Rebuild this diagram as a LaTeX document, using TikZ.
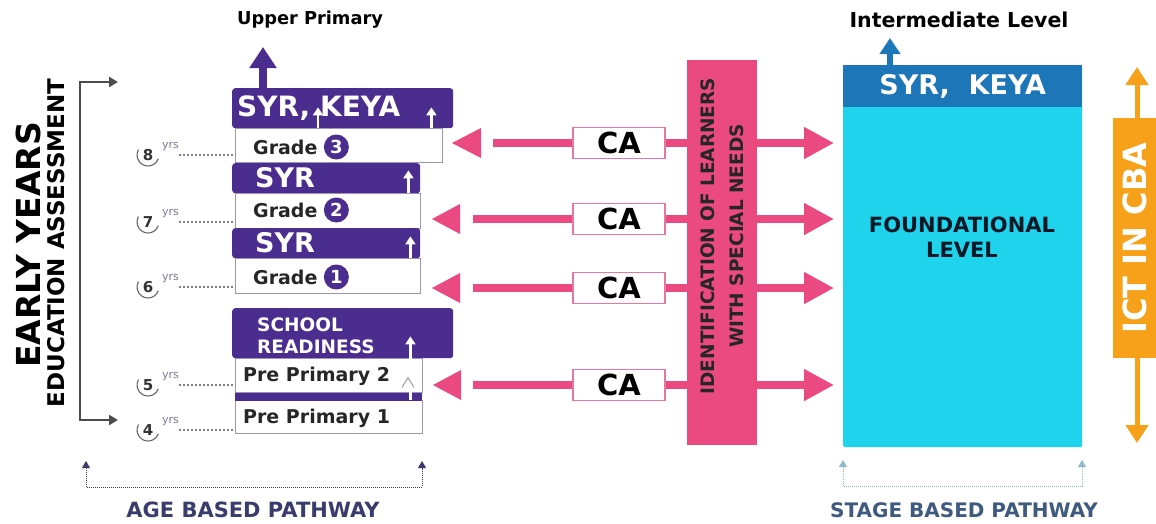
\documentclass[tikz,border=0pt]{standalone}
\usepackage{fontspec}
\setmainfont{DejaVu Sans}
\usetikzlibrary{positioning,arrows.meta}
\definecolor{ppurple}{HTML}{4B2C8F}
\definecolor{pframe}{HTML}{9C94BA}
\definecolor{ppink}{HTML}{EA4A80}
\definecolor{pinkline}{HTML}{E8769E}
\definecolor{pcyan}{HTML}{20D3EC}
\definecolor{pblue}{HTML}{1D76B8}
\definecolor{porange}{HTML}{F7A11A}
\definecolor{pnavy}{HTML}{3A3C6E}
\definecolor{pslate}{HTML}{3E5A7E}
\definecolor{pteal}{HTML}{8DBBCB}
\newcommand{\bfsize}[2]{\fontsize{#1}{#2}\selectfont\bfseries}

\begin{document}
\begin{tikzpicture}[x=1pt, y=-1pt,
  syrbar/.style = {fill=ppurple, rounded corners=3pt, anchor=north west, inner sep=0pt},
  gradebox/.style = {draw=pframe, fill=white, line width=1pt, anchor=north west, inner sep=0pt},
  bartext/.style = {anchor=west, inner sep=0pt, text=white, font=\bfsize{28}{28}},
  gradetext/.style = {anchor=west, inner sep=0pt, text=black!85, font=\bfsize{19}{19}},
  gradenum/.style = {circle, fill=ppurple, text=white, minimum size=25pt, inner sep=0pt, font=\bfsize{18}{18}},
  wup/.style = {white, line width=2.2pt, -{Triangle[length=8pt, width=10pt]}},
  cabox/.style = {draw=pinkline, fill=white, line width=1.2pt, minimum width=92pt, minimum height=31pt, inner sep=0pt, font=\bfsize{29}{29}},
  cashaft/.style = {ppink, line width=8pt},
  cato/.style = {cashaft, -{Triangle[length=30pt, width=30pt]}, shorten >=9pt},
  agenum/.style = {inner sep=0pt, text=black!80, font=\bfsize{15}{15}},
  agetxt/.style = {inner sep=0pt, anchor=west, text=pframe!80!black, font=\fontsize{11}{11}\selectfont},
  agearc/.style = {black!60, line width=1.1pt},
  agedot/.style = {black!50, dash pattern=on 2pt off 2pt, line width=1.2pt},
  pathline/.style = {densely dotted, line width=1pt, {Triangle[length=7pt, width=8pt]}-{Triangle[length=7pt, width=8pt]}}]

  \useasboundingbox (0,0) rectangle (1156,523);

  \node[rotate=90, font=\bfsize{33}{33}] (ey) at (28,245) {EARLY YEARS};
  \node[rotate=90, font=\bfsize{23}{23}] (eya) at (56,243) {EDUCATION ASSESSMENT};
  \coordinate (eyT) at (118,82);
  \coordinate (eyB) at (118,420);
  \draw[black!70, line width=2.5pt, {Triangle[length=9pt, width=10pt]}-{Triangle[length=9pt, width=10pt]}] (eyT) -- ++(-38,0) -- ++(0,338) -- (eyB);

  \node[syrbar, minimum width=221pt, minimum height=40pt] (keya) at (232,88) {};
  \node[gradebox, minimum width=207pt, minimum height=34pt] (g3) at (235,128) {};
  \node[syrbar, minimum width=188pt, minimum height=30pt] (syr2) at (232,163) {};
  \node[gradebox, minimum width=185pt, minimum height=35pt] (g2) at (235,193) {};
  \node[syrbar, minimum width=188pt, minimum height=30pt] (syr1) at (232,228) {};
  \node[gradebox, minimum width=185pt, minimum height=35pt] (g1) at (235,258) {};
  \node[syrbar, minimum width=221pt, minimum height=50pt] (sr) at (232,308) {};
  \node[gradebox, minimum width=187pt, minimum height=34pt] (pp2) at (235,358) {};
  \node[gradebox, minimum width=187pt, minimum height=33pt] (pp1) at (235,400) {};
  \fill[ppurple] (pp2.south west) rectangle ++(187,8);
  \draw[white, line width=2.2pt] ([xshift=-43pt]sr.south east) -- ++(0,42);
  \draw[pframe, line width=1pt] ([shift={(-21,12)}]pp2.east) -- ++(6,-10) -- ++(6,10);

  \node[bartext] (tkeya) at (237,108) {SYR, KEYA};
  \node[bartext, font=\bfsize{27}{27}] (tsyr2) at (255,178) {SYR};
  \node[bartext, font=\bfsize{27}{27}] (tsyr1) at (255,243) {SYR};
  \node[bartext, font=\bfsize{18.5}{22}, align=left] (tsr) at (257,336) {SCHOOL\\READINESS};
  \node[gradetext] (tg3) at (253,147) {Grade};
  \node[gradenum, right=6pt of tg3] (n3) {3};
  \node[gradetext] (tg2) at (253,210) {Grade};
  \node[gradenum, right=6pt of tg2] (n2) {2};
  \node[gradetext] (tg1) at (253,277) {Grade};
  \node[gradenum, right=6pt of tg1] (n1) {1};
  \node[gradetext] (tpp2) at (243,376) {Pre Primary 2};
  \node[gradetext] (tpp1) at (243,418) {Pre Primary 1};

  \draw[wup] ([xshift=86pt]keya.south west) -- ++(0,-21);
  \draw[wup] ([xshift=-22pt]keya.south east) -- ++(0,-21);
  \draw[wup] ([xshift=-12pt]syr2.south east) -- ++(0,-23);
  \draw[wup] ([xshift=-10pt]syr1.south east) -- ++(0,-22);
  \draw[wup] ([xshift=-43pt]sr.south east) -- ++(0,-22);
  \draw[ppurple, line width=8pt, -{Triangle[length=21pt, width=26pt]}] ([xshift=31pt]keya.north west) -- ++(0,-41);
  \node[font=\bfsize{17.8}{18}] (up) at (310,20) {Upper Primary};

  \node[agenum] (a8) at (148,155) {8};
  \node[agetxt] (r8) at (162,147) {yrs};
  \draw[agearc] ([shift={(-150:11)}]a8.center) arc[start angle=-150, end angle=-340, radius=11];
  \draw[agedot] (r8.east |- a8) -- (a8 -| g3.west);
  \node[agenum] (a7) at (148,222) {7};
  \node[agetxt] (r7) at (162,214) {yrs};
  \draw[agearc] ([shift={(-150:11)}]a7.center) arc[start angle=-150, end angle=-340, radius=11];
  \draw[agedot] (r7.east |- a7) -- (a7 -| g2.west);
  \node[agenum] (a6) at (148,287) {6};
  \node[agetxt] (r6) at (162,279) {yrs};
  \draw[agearc] ([shift={(-150:11)}]a6.center) arc[start angle=-150, end angle=-340, radius=11];
  \draw[agedot] (r6.east |- a6) -- (a6 -| g1.west);
  \node[agenum] (a5) at (148,385) {5};
  \node[agetxt] (r5) at (162,377) {yrs};
  \draw[agearc] ([shift={(-150:11)}]a5.center) arc[start angle=-150, end angle=-340, radius=11];
  \draw[agedot] (r5.east |- a5) -- (a5 -| pp2.west);
  \node[agenum] (a4) at (148,430) {4};
  \node[agetxt] (r4) at (162,422) {yrs};
  \draw[agearc] ([shift={(-150:11)}]a4.center) arc[start angle=-150, end angle=-340, radius=11];
  \draw[agedot] (r4.east |- a4) -- (a4 -| pp1.west);

  \node[fill=pcyan, anchor=north west, rounded corners=2pt, minimum width=239pt, minimum height=382pt, inner sep=0pt] (found) at (843,65) {};
  \node[fill=pblue, anchor=north west, minimum width=239pt, minimum height=42pt, inner sep=0pt, text=white, font=\bfsize{27}{27}] (band) at (843,65) {SYR,\ \ KEYA};
  \node[align=center, text=black!80!pblue, font=\bfsize{21}{25}] (fl) at (962,237) {FOUNDATIONAL\\LEVEL};
  \draw[pblue, line width=6pt, -{Triangle[length=16pt, width=20pt]}] ([xshift=47pt]band.north west) -- ++(0,-27);
  \node[font=\bfsize{20.5}{21}] (il) at (959,20) {Intermediate Level};

  \node[cabox] (ca1) at (619,143) {CA};
  \node[cabox] (ca2) at (619,219) {CA};
  \node[cabox] (ca3) at (619,288) {CA};
  \node[cabox] (ca4) at (619,385) {CA};
  \coordinate (e1) at (g3.east |- ca1);
  \coordinate (e2) at (g2.east |- ca2);
  \coordinate (e3) at (g1.east |- ca3);
  \coordinate (e4) at (pp2.east |- ca4);
  \draw[cashaft] (ca1.west) -- ([xshift=50pt]e1);
  \draw[cashaft] (ca2.west) -- ([xshift=52pt]e2);
  \draw[cashaft] (ca3.west) -- ([xshift=52pt]e3);
  \draw[cashaft] (ca4.west) -- ([xshift=50pt]e4);
  \fill[ppink] ([xshift=9pt]e1) -- ++(29,-15) -- ++(0,30) -- cycle;
  \fill[ppink] ([xshift=11pt]e2) -- ++(28,-15) -- ++(0,30) -- cycle;
  \fill[ppink] ([xshift=11pt]e3) -- ++(28,-15) -- ++(0,30) -- cycle;
  \fill[ppink] ([xshift=10pt]e4) -- ++(28,-15) -- ++(0,30) -- cycle;
  \draw[cato] (ca1.east) -- (ca1.east -| found.west);
  \draw[cato] (ca2.east) -- (ca2.east -| found.west);
  \draw[cato] (ca3.east) -- (ca3.east -| found.west);
  \draw[cato] (ca4.east) -- (ca4.east -| found.west);

  \node[fill=ppink, anchor=north west, minimum width=70pt, minimum height=385pt, inner sep=0pt] (isn) at (687,60) {};
  \node[rotate=90, align=center, text=black!85, font=\bfsize{18.5}{29}] (tisn) at (722,236) {IDENTIFICATION OF LEARNERS\\WITH SPECIAL NEEDS};

  \coordinate (ictT) at (1137,67);
  \coordinate (ictB) at (1137,443);
  \draw[porange, line width=5pt, {Triangle[length=18pt, width=22pt]}-{Triangle[length=18pt, width=22pt]}] (ictT) -- (ictB);
  \node[fill=porange, rotate=90, minimum width=240pt, minimum height=43pt, inner sep=0pt, text=white, font=\bfsize{32}{32}] (ict) at (1134.5,238) {ICT IN CBA};

  \coordinate (abL) at (86,461);
  \coordinate (abR) at (422,461);
  \draw[pathline, pnavy] (abL) -- ++(0,26) -| (abR);
  \node[text=pnavy, font=\bfsize{21}{21}] (abp) at (253,510) {AGE BASED PATHWAY};
  \coordinate (sbL) at (843,460);
  \coordinate (sbR) at (1082,460);
  \draw[pathline, pteal] (sbL) -- ++(0,26) -| (sbR);
  \node[text=pslate, font=\bfsize{20}{20}] (sbp) at (964,510) {STAGE BASED PATHWAY};

\end{tikzpicture}
\end{document}
